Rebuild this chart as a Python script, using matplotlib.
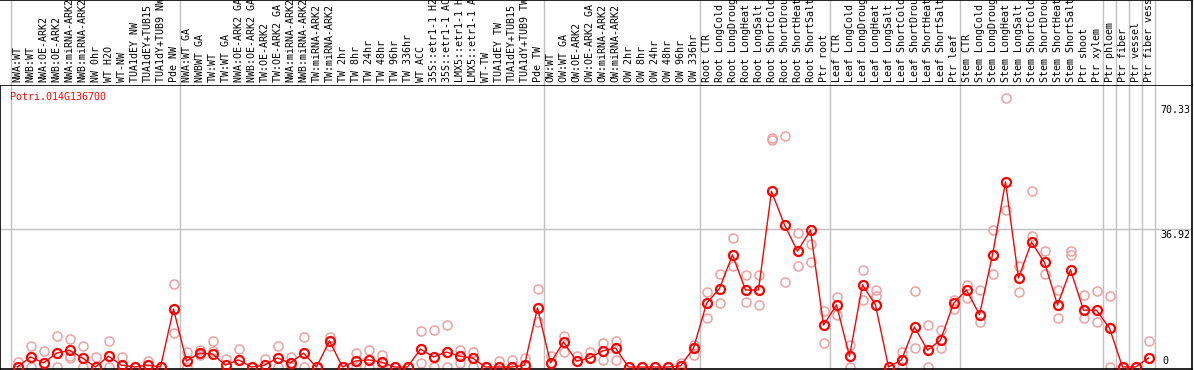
import numpy as np
import matplotlib.pyplot as plt

labels = [
    "NWA:WT", "NWB:WT", "NWA:OE-ARK2", "NWB:OE-ARK2", "NWA:miRNA-ARK2",
    "NWB:miRNA-ARK2", "NW 0hr", "WT H2O", "WT-NW", "TUA1dEY NW",
    "TUA1dEY+TUB15", "TUA1dY+TUB9 NW", "Pde NW", "NWA:WT GA", "NWBWT GA",
    "TW:WT", "TW:WT GA", "NWA:OE-ARK2 GA", "NWB:OE-ARK2 GA", "TW:OE-ARK2",
    "TW:OE-ARK2 GA", "NWA:miRNA-ARK2", "NWB:miRNA-ARK2", "TW:miRNA-ARK2",
    "TW:miRNA-ARK2", "TW 2hr", "TW 8hr", "TW 24hr", "TW 48hr", "TW 96hr",
    "TW 336hr", "WT ACC", "35S::etr1-1 H2", "35S::etr1-1 AC", "LMX5::etr1-1 H",
    "LMX5::etr1-1 A", "WT-TW", "TUA1dEY TW", "TUA1dEY+TUB15", "TUA1dY+TUB9 TW",
    "Pde TW", "OW:WT", "OW:WT GA", "OW:OE-ARK2", "OW:OE-ARK2 GA",
    "OW:miRNA-ARK2", "OW:miRNA-ARK2", "OW 2hr", "OW 8hr", "OW 24hr",
    "OW 48hr", "OW 96hr", "OW 336hr", "Root CTR", "Root LongCold",
    "Root LongDroug", "Root LongHeat", "Root LongSalt", "Root ShortCold",
    "Root ShortDrou", "Root ShortHeat", "Root ShortSalt", "Ptr root",
    "Leaf CTR", "Leaf LongCold", "Leaf LongDroug", "Leaf LongHeat",
    "Leaf LongSalt", "Leaf ShortCold", "Leaf ShortDrou", "Leaf ShortHeat",
    "Leaf ShortSalt", "Ptr leaf", "Stem CTR", "Stem LongCold",
    "Stem LongDroug", "Stem LongHeat", "Stem LongSalt", "Stem ShortCold",
    "Stem ShortDrou", "Stem ShortHeat", "Stem ShortSalt", "Ptr shoot",
    "Ptr xylem", "Ptr phloem", "Ptr fiber", "Ptr vessel", "Ptr fiber vessel",
]

means = [
    0.0, 2.7, 1.1, 3.7, 4.5, 2.4, 0.0, 2.9, 0.5, 0.0,
    0.5, 0.0, 15.5, 1.6, 3.7, 3.5, 0.5, 1.9, 0.0, 0.5,
    2.4, 1.1, 3.7, 0.0, 7.0, 0.0, 1.6, 1.9, 1.3, 0.0,
    0.0, 4.8, 2.7, 4.0, 2.9, 2.4, 0.0, 0.0, 0.0, 0.5,
    15.8, 1.1, 6.7, 1.6, 2.4, 4.3, 5.1, 0.0, 0.0, 0.0,
    0.0, 0.3, 5.0, 17.0, 21.0, 30.0, 20.6, 20.6, 47.0, 38.0,
    31.0, 36.6, 11.2, 16.6, 2.9, 22.0, 16.6, 0.0, 1.9, 10.7,
    4.5, 7.2, 17.0, 20.6, 14.0, 30.0, 49.5, 23.8, 33.4, 28.0,
    16.6, 26.0, 15.2, 15.2, 10.4, 0.0, 0.0, 2.4,
]

reps = [
    [1.3, 0.0], [5.6, 0.0], [4.3], [8.3, 0.0], [7.5, 2.9, 2.4],
    [5.6, 0.0], [2.7], [7.0, 0.0], [2.7], [0.0],
    [1.6], [0.0], [22.2, 9.1], [4.0, 0.0], [4.5, 3.2],
    [7.0, 4.3], [2.1], [4.8], [0.0], [2.1],
    [5.6, 0.0], [2.7, 0.0], [8.0, 0.0], [0.0], [8.0, 5.6],
    [0.0], [3.7, 0.0], [4.5, 0.0], [3.2, 0.0], [0.0],
    [0.0], [9.6, 1.0], [9.9, 0.0], [11.2, 0.0], [4.5, 1.0],
    [4.0, 0.0], [0.0], [1.6], [2.0], [2.4],
    [21.0, 12.0], [3.0], [8.3, 4.0], [3.0], [4.0],
    [6.5, 2.0], [7.0, 2.0], [0.0], [0.0], [0.0],
    [0.0], [1.0], [3.2, 6.0], [13.0, 20.0], [25.0, 17.0],
    [34.5, 27.0], [17.5, 24.5], [24.6, 16.5], [60.7, 61.2], [61.8, 22.8],
    [35.8, 27.0], [33.0, 28.0], [6.5, 15.0], [18.7, 14.0], [6.0, 0.0],
    [26.0, 18.0], [20.5, 19.0], [0.0], [4.0, 0.0], [20.3, 5.0],
    [11.2, 0.0], [9.9, 5.0], [18.0, 15.5], [22.0, 18.5], [20.6, 12.0],
    [36.6, 25.0], [72.0, 42.0], [27.0, 20.0], [47.0, 35.0], [31.0, 25.0],
    [20.6, 13.0], [31.0, 30.0], [19.3, 13.0], [20.3, 12.0], [19.0, 0.0],
    [0.0], [0.0], [7.0],
]

gene = "Potri.014G136700"
ytick_vals = [70.33, 36.92]

# group separators (after these category indices)
separators = [-1, 12, 40, 52, 62, 72, 83, 84, 85, 86, 87]

W, H = 1194, 370
x0, dx = 17.5, 13.0        # pixel centre of first category, spacing
y0, dy = 367.0, 3.738      # pixel of value 0, pixels per unit
right_px, sep_px = 1192, 85

plt.rcParams['font.family'] = ['DejaVu Sans Mono']
fs = 7.2

fig = plt.figure(figsize=(W / 100, H / 100), dpi=100)
xlim = ((0 - x0) / dx, (right_px - x0) / dx)

# plot region
ax = fig.add_axes([0, 1 / H, right_px / W, (369 - sep_px) / H])
ax.set_xlim(*xlim)
ax.set_ylim((y0 - 369) / dy, (y0 - sep_px) / dy)
ax.set_xticks([])
ax.set_yticks([])
for s in ax.spines.values():
    s.set_color('black')
    s.set_linewidth(1.2)

# label region
axl = fig.add_axes([0, (H - sep_px) / H, right_px / W, sep_px / H])
axl.set_xlim(*xlim)
axl.set_ylim(0, 1)
axl.set_xticks([])
axl.set_yticks([])
for k in ['left', 'bottom']:
    axl.spines[k].set_visible(False)
for k in ['top', 'right']:
    axl.spines[k].set_linewidth(1.2)

x = np.arange(len(labels))
for i, lab in enumerate(labels):
    axl.text(i, 2.5 / sep_px, lab, rotation=90, ha='center', va='bottom',
             fontsize=fs, clip_on=True)

for s in separators:
    ax.axvline(s + 0.5, color='#c0c0c0', lw=1, zorder=0)
    axl.axvline(s + 0.5, color='#c0c0c0', lw=1, zorder=0)

ax.axhline(ytick_vals[1], color='#c0c0c0', lw=1, zorder=0)

# replicates
for i, r in enumerate(reps):
    ax.plot([i] * len(r), r, 'o', mfc='none', mec='#f0a0a0', ms=6.5, mew=1.1,
            clip_on=False, zorder=2)

ax.plot(x, means, '-', color='red', lw=1, zorder=3, clip_on=False)
ax.plot(x, means, 'o', mfc='none', mec='red', ms=6.5, mew=1.6, zorder=4,
        clip_on=False)

fig.text(10 / W, 1 - 92 / H, gene, color='red', fontsize=fs,
         ha='left', va='top')

tx = 1190 / W
for v in ytick_vals:
    ypx = y0 - v * dy
    fig.text(tx, 1 - (ypx + 1) / H, f"{v:.2f}", fontsize=fs, ha='right',
             va='top')
fig.text(tx - 22 / W, 1 - 366 / H, "0", fontsize=fs, ha='right', va='bottom')

fig.savefig('out.png', dpi=100)
